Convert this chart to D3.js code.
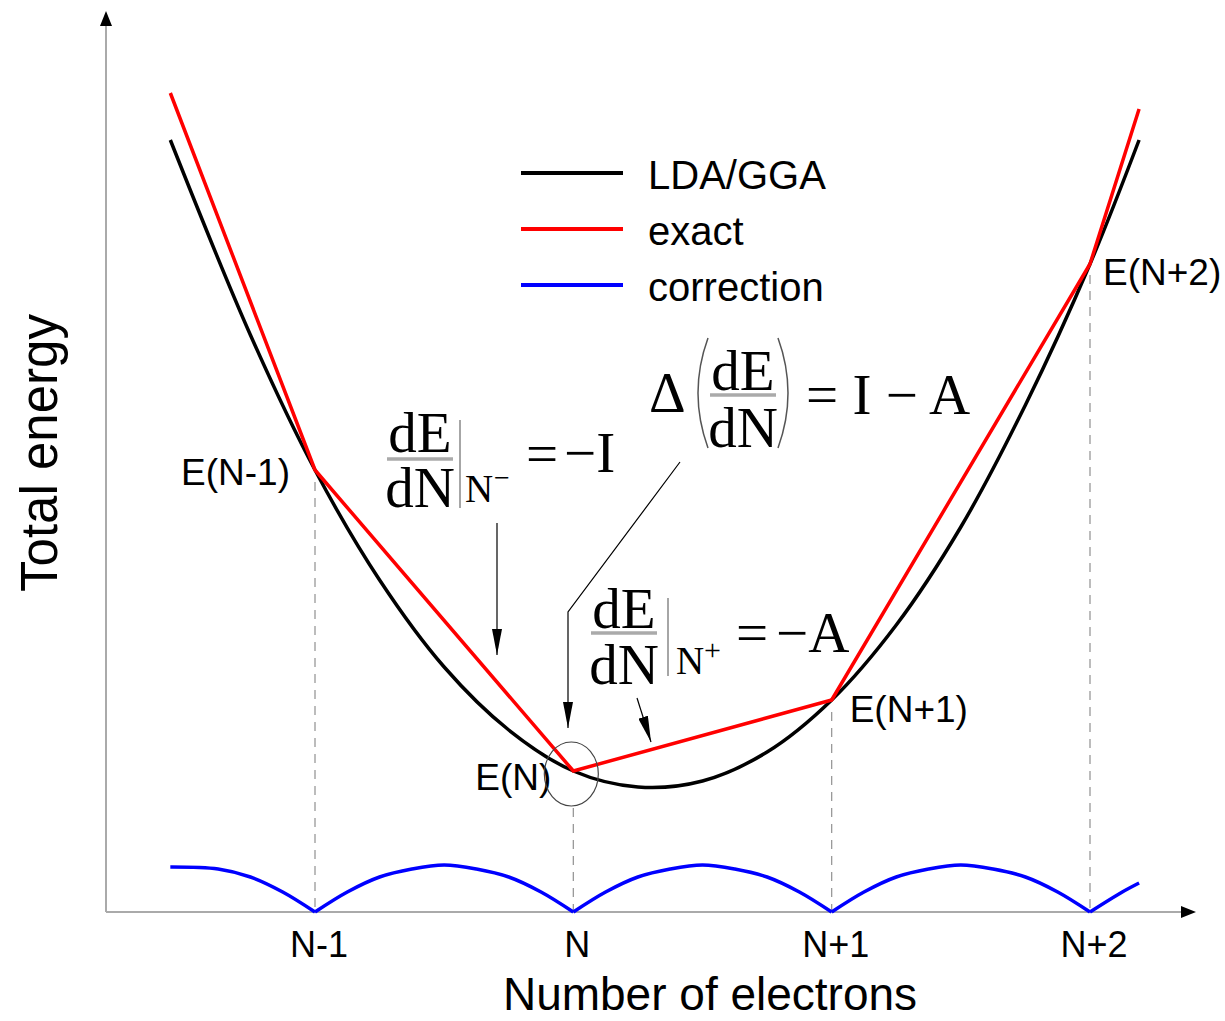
<!DOCTYPE html>
<html lang="en">
<head>
    <meta charset="UTF-8">
    <script src="https://d3js.org/d3.v7.min.js"></script>
    <style>
        body { margin: 0; background: #fff; }
        text { font-family: "Liberation Sans", Arial, sans-serif; fill: #000; }
        .math { font-family: "Liberation Serif", "Times New Roman", serif; }
    </style>
</head>
<body>
<div id="chart"></div>
<script>
// Number of electrons, counted from N (N-1 = -1, N = 0, ...)
var tickValues = [-1, 0, 1, 2];
var tickLabels = ["N-1", "N", "N+1", "N+2"];
var pointLabels = ["E(N-1)", "E(N)", "E(N+1)", "E(N+2)"];

// LDA/GGA total energy (arbitrary units)
var ldaN = [-1.56, -1.25, -1.0, -0.75, -0.5, -0.25, 0, 0.25, 0.5, 0.75, 1.0, 1.25, 1.5, 1.75, 2.0, 2.19];
var ldaE = [7.72, 5.77, 4.42, 3.32, 2.45, 1.82, 1.41, 1.25, 1.31, 1.60, 2.12, 2.87, 3.85, 5.07, 6.48, 7.72];

// exact: piecewise linear through the integer energies
var exactN = [-1.56, -1, 0, 1, 2, 2.19];
var exactE = [8.19, 4.42, 1.41, 2.12, 6.48, 8.03];

// correction (exact - LDA/GGA)
var corrN = [-1.56, -1.375, -1.25, -1.125, -1,
             -0.875, -0.75, -0.625, -0.5, -0.375, -0.25, -0.125, 0,
             0.125, 0.25, 0.375, 0.5, 0.625, 0.75, 0.875, 1,
             1.125, 1.25, 1.375, 1.5, 1.625, 1.75, 1.875, 2,
             2.125, 2.19];
var corrE = [0.45, 0.43, 0.35, 0.20, 0,
             0.20, 0.35, 0.43, 0.47, 0.43, 0.35, 0.20, 0,
             0.20, 0.35, 0.43, 0.47, 0.43, 0.35, 0.20, 0,
             0.20, 0.35, 0.43, 0.47, 0.43, 0.35, 0.20, 0,
             0.20, 0.29];

var legendNames = ["LDA/GGA", "exact", "correction"];
var legendColors = ["#000000", "#ff0000", "#0000ff"];

var W = 1225, H = 1021;
var svg = d3.select("#chart").append("svg")
    .attr("width", W).attr("height", H);

var x = d3.scaleLinear().domain([-1, 2]).range([315, 1090]);
var y = d3.scaleLinear().domain([0, 9]).range([912, 12]);

function zip(a, b) { return a.map(function(v, i) { return [v, b[i]]; }); }

// arrow head marker
var defs = svg.append("defs");
defs.append("marker")
    .attr("id", "head")
    .attr("markerUnits", "userSpaceOnUse")
    .attr("viewBox", "0 -5 26 10")
    .attr("refX", 26).attr("refY", 0)
    .attr("markerWidth", 26).attr("markerHeight", 10)
    .attr("orient", "auto")
  .append("path").attr("d", "M0,-5L26,0L0,5Z").attr("fill", "#000");

// axes
var x0 = 106, yBase = y(0);
svg.append("line").attr("x1", x0).attr("y1", yBase).attr("x2", x0).attr("y2", 24)
    .attr("stroke", "#aaa").attr("stroke-width", 2);
svg.append("path").attr("d", "M" + x0 + ",11L" + (x0 - 6) + ",26L" + (x0 + 6) + ",26Z").attr("fill", "#000");
svg.append("line").attr("x1", x0).attr("y1", yBase).attr("x2", 1182).attr("y2", yBase)
    .attr("stroke", "#aaa").attr("stroke-width", 2);
svg.append("path").attr("d", "M1196," + yBase + "L1181," + (yBase - 6) + "L1181," + (yBase + 6) + "Z").attr("fill", "#000");

// tick labels
svg.selectAll(".tick").data(tickValues).enter().append("text")
    .attr("x", function(d) { return x(d) + 4; })
    .attr("y", 957)
    .attr("text-anchor", "middle")
    .style("font-size", "36px")
    .text(function(d, i) { return tickLabels[i]; });

// axis titles
svg.append("text").attr("x", 710).attr("y", 1010).attr("text-anchor", "middle")
    .style("font-size", "46px").text("Number of electrons");
svg.append("text").attr("transform", "translate(57,453) rotate(-90)").attr("text-anchor", "middle")
    .style("font-size", "51px").text("Total energy");

// dashed guides at integer electron numbers
var intE = tickValues.map(function(n) { return exactE[exactN.indexOf(n)]; });
var dashTop = [12, 37, 12, 11];
svg.selectAll(".guide").data(tickValues).enter().append("line")
    .attr("x1", function(d) { return x(d); }).attr("x2", function(d) { return x(d); })
    .attr("y1", function(d, i) { return y(intE[i]) + dashTop[i]; })
    .attr("y2", yBase)
    .attr("stroke", "#999").attr("stroke-width", 1.3)
    .attr("stroke-dasharray", "9,7");

// curves
var line = d3.line().x(function(d) { return x(d[0]); }).y(function(d) { return y(d[1]); });

svg.append("path").datum(zip(ldaN, ldaE))
    .attr("d", line.curve(d3.curveCatmullRom))
    .attr("fill", "none").attr("stroke", "#000").attr("stroke-width", 3.5);

svg.append("path").datum(zip(exactN, exactE))
    .attr("d", d3.line().x(function(d) { return x(d[0]); }).y(function(d) { return y(d[1]); }))
    .attr("fill", "none").attr("stroke", "#ff0000").attr("stroke-width", 3.5)
    .attr("stroke-linejoin", "round");

// correction drawn arc by arc (cusps at the integers)
var corr = zip(corrN, corrE), arcs = [], cur = [];
corr.forEach(function(p, i) {
    cur.push(p);
    if (p[1] === 0 && i > 0) { arcs.push(cur); cur = [p]; }
});
if (cur.length > 1) arcs.push(cur);
svg.selectAll(".arc").data(arcs).enter().append("path")
    .attr("d", d3.line().x(function(d) { return x(d[0]); }).y(function(d) { return y(d[1]); }).curve(d3.curveCatmullRom))
    .attr("fill", "none").attr("stroke", "#0000ff").attr("stroke-width", 3.5);

// point labels
var lblOff = [[-25, 15, "end"], [-22, 19, "end"], [18, 22, "start"], [13, 21, "start"]];
svg.selectAll(".plabel").data(tickValues).enter().append("text")
    .attr("x", function(d, i) { return x(d) + lblOff[i][0]; })
    .attr("y", function(d, i) { return y(intE[i]) + lblOff[i][1]; })
    .attr("text-anchor", function(d, i) { return lblOff[i][2]; })
    .style("font-size", "37px")
    .text(function(d, i) { return pointLabels[i]; });

// circle round E(N)
svg.append("ellipse").attr("cx", x(0) - 2).attr("cy", y(intE[1]) + 3)
    .attr("rx", 27).attr("ry", 32)
    .attr("fill", "none").attr("stroke", "#444").attr("stroke-width", 1.2);

// legend
var legend = svg.append("g").attr("transform", "translate(521,173)");
legendNames.forEach(function(name, i) {
    legend.append("line").attr("x1", 0).attr("x2", 102).attr("y1", i * 56).attr("y2", i * 56)
        .attr("stroke", legendColors[i]).attr("stroke-width", 4);
    legend.append("text").attr("x", 127).attr("y", i * 56 + 16)
        .style("font-size", "40px").text(name);
});

// formulas
var mSize = 57;
function frac(cx, yTop, yBot, yBar, half) {
    svg.append("text").attr("class", "math").attr("x", cx).attr("y", yTop)
        .attr("text-anchor", "middle").style("font-size", mSize + "px").text("dE");
    svg.append("line").attr("x1", cx - half).attr("x2", cx + half).attr("y1", yBar).attr("y2", yBar)
        .attr("stroke", "#aaa").attr("stroke-width", 3.5);
    svg.append("text").attr("class", "math").attr("x", cx).attr("y", yBot)
        .attr("text-anchor", "middle").style("font-size", mSize + "px").text("dN");
}
function mtext(xx, yy, str, size) {
    svg.append("text").attr("class", "math").attr("x", xx).attr("y", yy)
        .style("font-size", size + "px").text(str);
}

// dE/dN |N- = -I
frac(420, 452, 507, 459, 33);
svg.append("line").attr("x1", 460).attr("x2", 460).attr("y1", 420).attr("y2", 508)
    .attr("stroke", "#888").attr("stroke-width", 1.5);
mtext(465, 502, "N", 39);
mtext(494, 487, "\u2212", 28);
mtext(526, 473, "=", mSize);
mtext(564, 472, "\u2212I", mSize);

// Delta(dE/dN) = I - A
mtext(649, 412, "\u0394", mSize);
svg.append("path").attr("d", "M708,338 Q688,393 708,448")
    .attr("fill", "none").attr("stroke", "#555").attr("stroke-width", 1.5);
svg.append("path").attr("d", "M778,338 Q798,393 778,448")
    .attr("fill", "none").attr("stroke", "#555").attr("stroke-width", 1.5);
frac(743, 390, 447, 395, 33);
mtext(806, 414, "= I \u2212 A", mSize);

// dE/dN |N+ = -A
frac(624, 628, 684, 633, 33);
svg.append("line").attr("x1", 668).attr("x2", 668).attr("y1", 598).attr("y2", 676)
    .attr("stroke", "#888").attr("stroke-width", 1.5);
mtext(676, 674, "N", 39);
mtext(704, 660, "+", 30);
mtext(736, 652, "=", mSize);
mtext(776, 652, "\u2212A", mSize);

// pointer arrows
function arrow(d) {
    svg.append("path").attr("d", d).attr("fill", "none")
        .attr("stroke", "#000").attr("stroke-width", 1.2)
        .attr("marker-end", "url(#head)");
}
arrow("M497,523L497,655");
arrow("M680,462L568,612L568,728");
arrow("M637,698L651,742");
</script>
</body>
</html>
